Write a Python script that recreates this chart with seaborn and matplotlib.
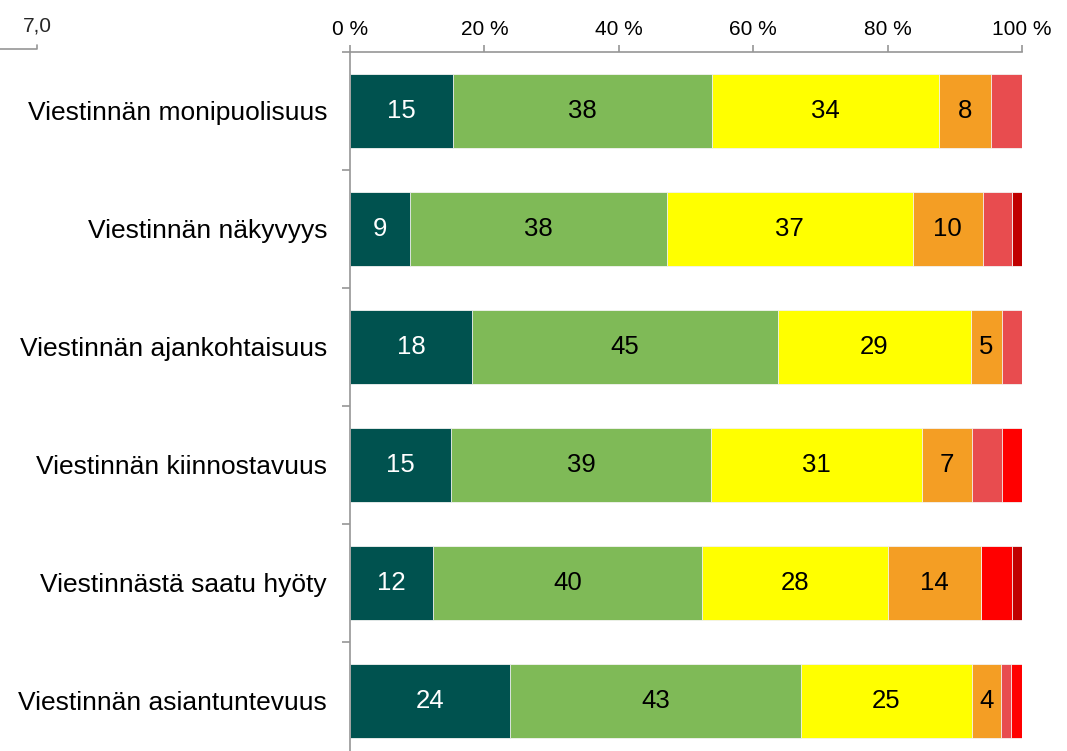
import numpy as np
import pandas as pd
import matplotlib
matplotlib.use("Agg")
import matplotlib.pyplot as plt
from matplotlib.lines import Line2D
from matplotlib.ticker import FuncFormatter, FixedLocator
import seaborn as sns

# data (percent shares per answer class)
categories = ["Viestinnän monipuolisuus", "Viestinnän näkyvyys",
              "Viestinnän ajankohtaisuus", "Viestinnän kiinnostavuus",
              "Viestinnästä saatu hyöty", "Viestinnän asiantuntevuus"]
s1 = [15.3, 8.9, 18.2, 15.0, 12.4, 23.8]
s2 = [38.5, 38.2, 45.4, 38.7, 40.0, 43.3]
s3 = [33.8, 36.6, 28.8, 31.4, 27.7, 25.4]
s4 = [7.8, 10.4, 4.6, 7.4, 13.8, 4.4]
s5 = [4.6, 4.4, 3.0, 4.5, 0.0, 1.5]
s6 = [0.0, 0.0, 0.0, 3.0, 4.6, 1.5]
s7 = [0.0, 1.5, 0.0, 0.0, 1.5, 0.0]
series = [s1, s2, s3, s4, s5, s6, s7]
colors = ["#00524F", "#7FBA57", "#FFFF00", "#F49E24", "#E84C4F", "#FF0000", "#C00000"]
label_colors = ["white", "black", "black", "black"]
xticks = [0, 20, 40, 60, 80, 100]

sns.set_theme(style="white")
plt.rcParams["font.family"] = ["Liberation Sans", "DejaVu Sans"]

fig = plt.figure(figsize=(10.67, 7.51), dpi=100)
ax = fig.add_axes([0.328, -0.012, 0.630, 0.943])

vals = np.array(series)
cum = np.cumsum(vals, axis=0)
df = pd.DataFrame({"kysymys": categories})

# stacked bars: draw cumulative totals from the outermost inward
for i in range(len(series) - 1, -1, -1):
    df["arvo"] = cum[i]
    sns.barplot(data=df, x="arvo", y="kysymys", orient="h", color=colors[i],
                width=0.63, edgecolor="#f4f4f4", linewidth=0.6,
                saturation=1, errorbar=None, ax=ax)

# value labels for the four biggest classes
for i in range(4):
    for j, v in enumerate(series[i]):
        ax.text(cum[i][j] - v / 2, j, f"{round(v)}", ha="center", va="center",
                fontsize=18.5, color=label_colors[i])

ax.set_xlim(0, 100)
ax.set_ylim(5.5, -0.5)
ax.xaxis.tick_top()
ax.set_xticks(xticks)
ax.xaxis.set_major_formatter(FuncFormatter(lambda x, p: f"{x:.0f} %"))
ax.set_xlabel("")
ax.set_ylabel("")

gray = "#969696"
for side in ["right", "bottom"]:
    ax.spines[side].set_visible(False)
for side in ["top", "left"]:
    ax.spines[side].set_color(gray)
    ax.spines[side].set_linewidth(1.2)

ax.tick_params(axis="x", which="major", direction="out", length=5, width=1.2,
               color=gray, labelsize=15, pad=4, top=True, bottom=False)
ax.tick_params(axis="y", which="major", length=0, labelsize=19, pad=16.5)
ax.yaxis.set_minor_locator(FixedLocator(np.arange(-0.5, 6, 1.0)))
ax.tick_params(axis="y", which="minor", direction="out", length=6, width=1.2,
               color=gray, left=True)
for t in ax.get_xticklabels() + ax.get_yticklabels():
    t.set_color("black")

# leftover secondary axis stub at top left
fig.text(37 / 1067, 1 - 26 / 751, "7,0", fontsize=15, ha="center", va="center")
fig.add_artist(Line2D([0, 37 / 1067, 37 / 1067], [1 - 49 / 751, 1 - 49 / 751, 1 - 45 / 751],
                      color=gray, lw=1.2))

fig.savefig("out.png", dpi=100)
